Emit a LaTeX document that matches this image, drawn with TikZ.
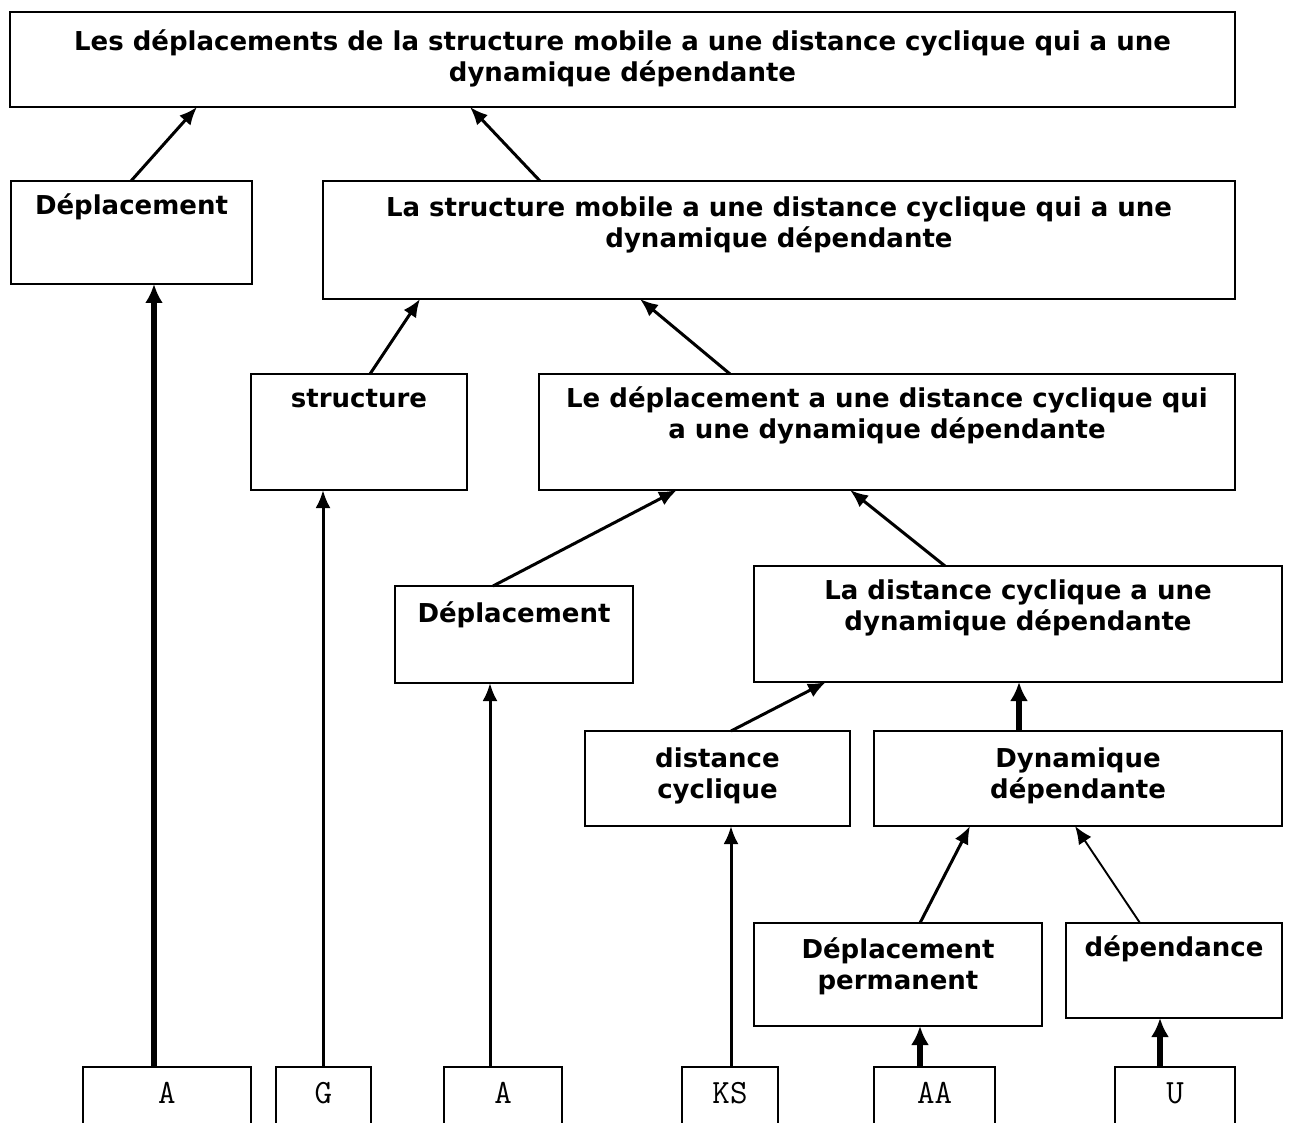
\documentclass[tikz,border=0pt]{standalone}
\usepackage{fontspec}
\setmainfont{DejaVu Sans}
\usetikzlibrary{arrows.meta}

% box content: width, height, baseline of first line below the top, text
\newcommand{\boxtext}[4]{\parbox[t][#2][t]{#1}{\centering\rule{0pt}{#3}#4}}

\tikzset{
  box/.style={draw, line width=1.4pt, anchor=north west, inner sep=0pt, outer sep=0pt,
    font=\bfseries\fontsize{26}{31}\selectfont},
  leaf/.style={draw, line width=1.4pt, anchor=north west, inner sep=0pt, outer sep=0pt,
    font=\ttfamily\fontsize{34}{31}\selectfont},
  arr/.style={line width=3pt, -{Latex[length=18pt,width=15pt]}},
  thickarr/.style={line width=5.5pt, -{Latex[length=19pt,width=18pt]}},
  thinarr/.style={line width=1.9pt, -{Latex[length=18pt,width=15pt]}},
}

\begin{document}
\begin{tikzpicture}[x=1pt,y=-1pt]
\clip (0,0) rectangle (1301,1123);
\fill[white] (0,0) rectangle (1301,1123);

% statement boxes
\node[box] (top) at (10,12)
  {\boxtext{1225pt}{95pt}{39pt}{Les déplacements de la structure mobile a une distance cyclique qui a une\\dynamique dépendante}};
\node[box] (dep1) at (11,181) {\boxtext{241pt}{103pt}{34pt}{Déplacement}};
\node[box] (lstr) at (323,181)
  {\boxtext{912pt}{118pt}{36pt}{La structure mobile a une distance cyclique qui a une\\dynamique dépendante}};
\node[box] (struct) at (251,374) {\boxtext{216pt}{116pt}{33pt}{structure}};
\node[box] (ledep) at (539,374)
  {\boxtext{696pt}{116pt}{33pt}{Le déplacement a une distance cyclique qui\\a une dynamique dépendante}};
\node[box] (dep2) at (395,586) {\boxtext{238pt}{97pt}{36pt}{Déplacement}};
\node[box] (ldist) at (754,566)
  {\boxtext{528pt}{116pt}{33pt}{La distance cyclique a une\\dynamique dépendante}};
\node[box] (dcyc) at (585,731) {\boxtext{265pt}{95pt}{36pt}{distance\\cyclique}};
\node[box] (dyn) at (874,731) {\boxtext{408pt}{95pt}{36pt}{Dynamique\\dépendante}};
\node[box] (dperm) at (754,923) {\boxtext{288pt}{103pt}{35pt}{Déplacement\\permanent}};
\node[box] (dpend) at (1066,923) {\boxtext{216pt}{95pt}{33pt}{dépendance}};

% symbol boxes along the bottom edge
\node[leaf] (bA1) at (83,1067) {\boxtext{168pt}{80pt}{36pt}{A}};
\node[leaf] (bG) at (276,1067) {\boxtext{95pt}{80pt}{36pt}{G}};
\node[leaf] (bA2) at (444,1067) {\boxtext{118pt}{80pt}{36pt}{A}};
\node[leaf] (bKS) at (682,1067) {\boxtext{96pt}{80pt}{36pt}{KS}};
\node[leaf] (bAA) at (874,1067) {\boxtext{121pt}{80pt}{36pt}{AA}};
\node[leaf] (bU) at (1115,1067) {\boxtext{120pt}{80pt}{36pt}{U}};

% composition arrows
\draw[arr] ([xshift=120pt]dep1.north west) -- ([xshift=187pt]top.south west);
\draw[arr] ([xshift=217pt]lstr.north west) -- ([xshift=460pt]top.south west);
\draw[arr] ([xshift=119pt]struct.north west) -- ([xshift=97pt]lstr.south west);
\draw[arr] ([xshift=191pt]ledep.north west) -- ([xshift=317pt]lstr.south west);
\draw[arr] ([xshift=98pt]dep2.north west) -- ([xshift=138pt]ledep.south west);
\draw[arr] ([xshift=191pt]ldist.north west) -- ([xshift=311pt]ledep.south west);
\draw[arr] ([xshift=146pt]dcyc.north west) -- ([xshift=72pt]ldist.south west);
\draw[thickarr] ([xshift=145pt]dyn.north west) -- ([xshift=265pt]ldist.south west);
\draw[arr] ([xshift=166pt]dperm.north west) -- ([xshift=96pt]dyn.south west);
\draw[thinarr] ([xshift=74pt]dpend.north west) -- ([xshift=201pt]dyn.south west);

% arrows from the symbols
\draw[thickarr] ([xshift=71pt]bA1.north west) -- ([xshift=143pt]dep1.south west);
\draw[arr] ([xshift=47pt]bG.north west) -- ([xshift=72pt]struct.south west);
\draw[arr] ([xshift=46pt]bA2.north west) -- ([xshift=95pt]dep2.south west);
\draw[arr] ([xshift=49pt]bKS.north west) -- ([xshift=146pt]dcyc.south west);
\draw[thickarr] ([xshift=46pt]bAA.north west) -- ([xshift=166pt]dperm.south west);
\draw[thickarr] ([xshift=45pt]bU.north west) -- ([xshift=94pt]dpend.south west);
\end{tikzpicture}
\end{document}
